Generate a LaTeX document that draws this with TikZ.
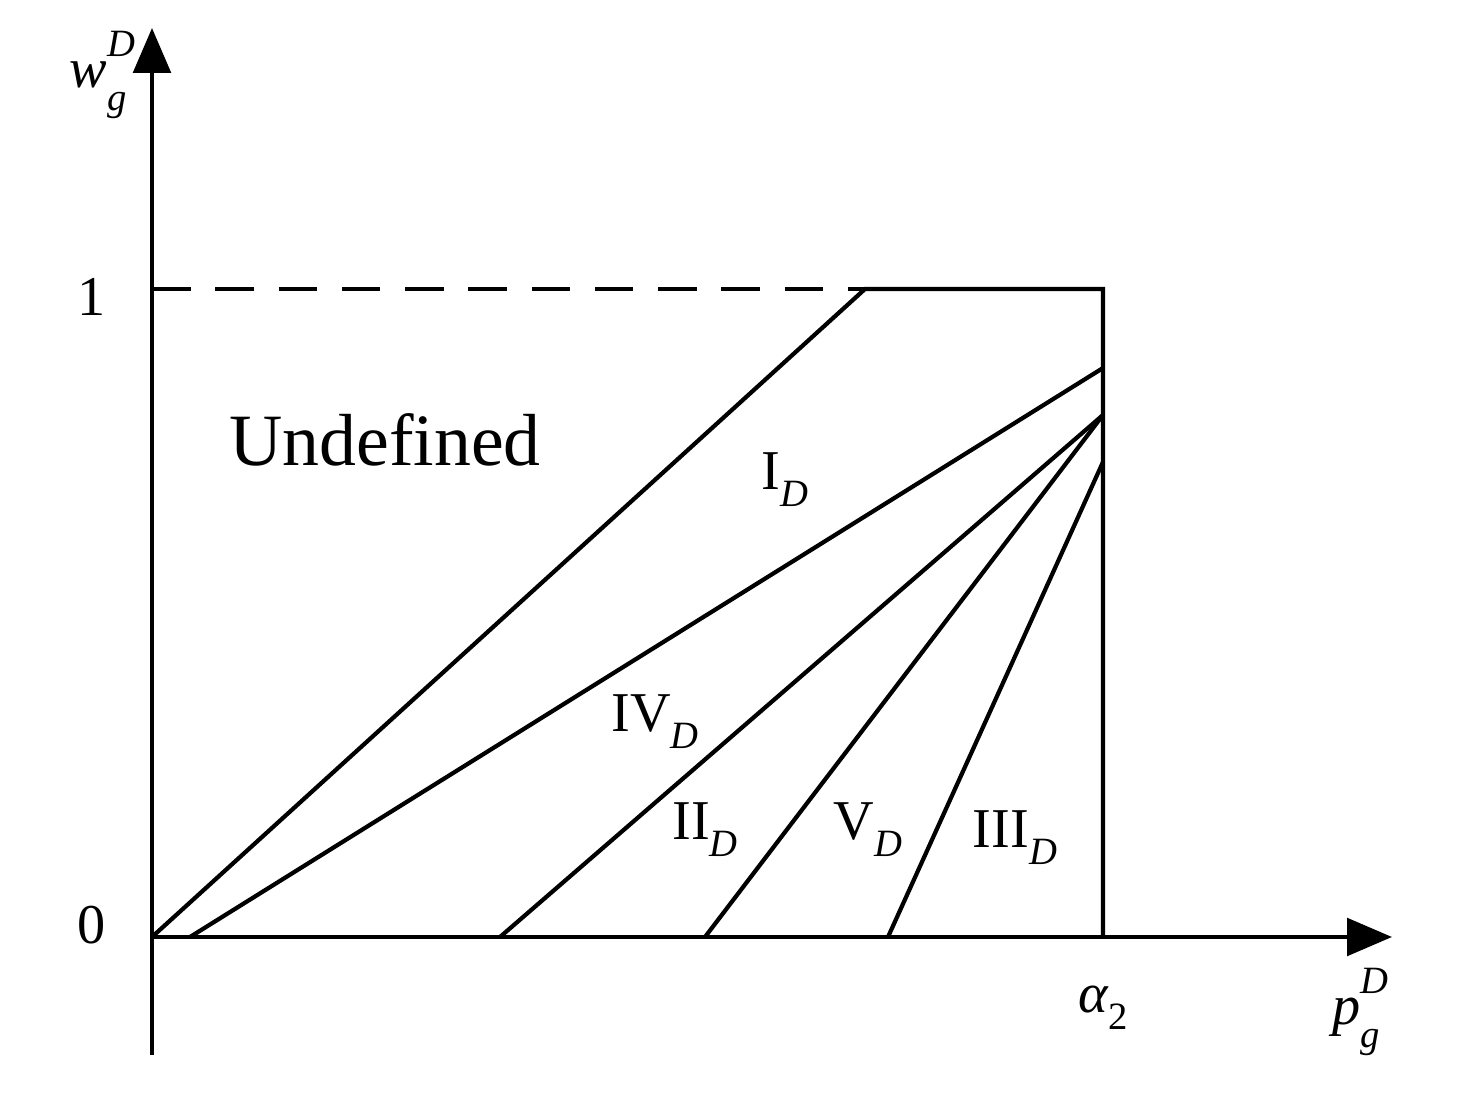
\documentclass[tikz,border=0pt]{standalone}
\usepackage{fontspec}
\setmainfont{Liberation Serif}
\usetikzlibrary{arrows.meta}
\tikzset{line/.style={line width=2.4pt},
         axis/.style={line width=2.4pt,-{Triangle[length=0.9cm,width=0.75cm]}},
         lbl/.style={font=\fontsize{32}{38}\selectfont,inner sep=0pt}}
\newcommand{\idxfont}{\fontsize{22}{22}\selectfont\itshape}
\newcommand{\sub}[2]{#1\raisebox{-0.3em}{\idxfont #2}}
\newcommand{\supsub}[3]{\textit{#1}\rlap{\raisebox{0.55em}{\idxfont #2}}\raisebox{-0.4em}{\idxfont #3}}
\begin{document}
\begin{tikzpicture}[x=0.02cm,y=-0.02cm]
  \useasboundingbox (0,0) rectangle (1458,1104);
  % axes
  \coordinate (O) at (152,937);
  \coordinate (xe) at (1392,937);
  \coordinate (yb) at (152,1055);
  \coordinate (ye) at (152,28);
  \draw[axis] (O) -- (xe);
  \draw[axis] (yb) -- (ye);
  % boundary points
  \coordinate (one) at (152,289);
  \coordinate (k) at (865,289);
  \coordinate (tr) at (1103,289);
  \coordinate (a2) at (1103,937);
  \coordinate (r1) at (1103,368);
  \coordinate (r2) at (1103,415);
  \coordinate (r3) at (1103,462);
  \coordinate (b1) at (190,937);
  \coordinate (b2) at (500,937);
  \coordinate (b3) at (705,937);
  \coordinate (b4) at (888,937);
  \draw[line,dash pattern=on 22pt off 14pt] (one) -- (k);
  \draw[line] (O) -- (k) -- (tr) -- (a2);
  \draw[line] (b1) -- (r1);
  \draw[line] (b2) -- (r2);
  \draw[line] (b3) -- (r2);
  \draw[line] (b4) -- (r3);
  % labels
  \node[lbl] (wl) at (98,75) {\supsub{w}{D}{g}};
  \node[lbl] (pl) at (1356,1012) {\supsub{p}{D}{g}};
  \node[lbl] (l1) at (92,297) {1};
  \node[lbl] (l0) at (92,925) {0};
  \node[lbl] (al) at (1103,1008) {\sub{\textit{α}}{\upshape 2}};
  \node[lbl,font=\fontsize{42}{48}\selectfont] (und) at (385,440) {Undefined};
  \node[lbl] (rI) at (785,480) {\sub{I}{D}};
  \node[lbl] (rIV) at (655,722) {\sub{IV}{D}};
  \node[lbl] (rII) at (705,830) {\sub{II}{D}};
  \node[lbl] (rV) at (868,830) {\sub{V}{D}};
  \node[lbl] (rIII) at (1015,838) {\sub{III}{D}};
\end{tikzpicture}
\end{document}
